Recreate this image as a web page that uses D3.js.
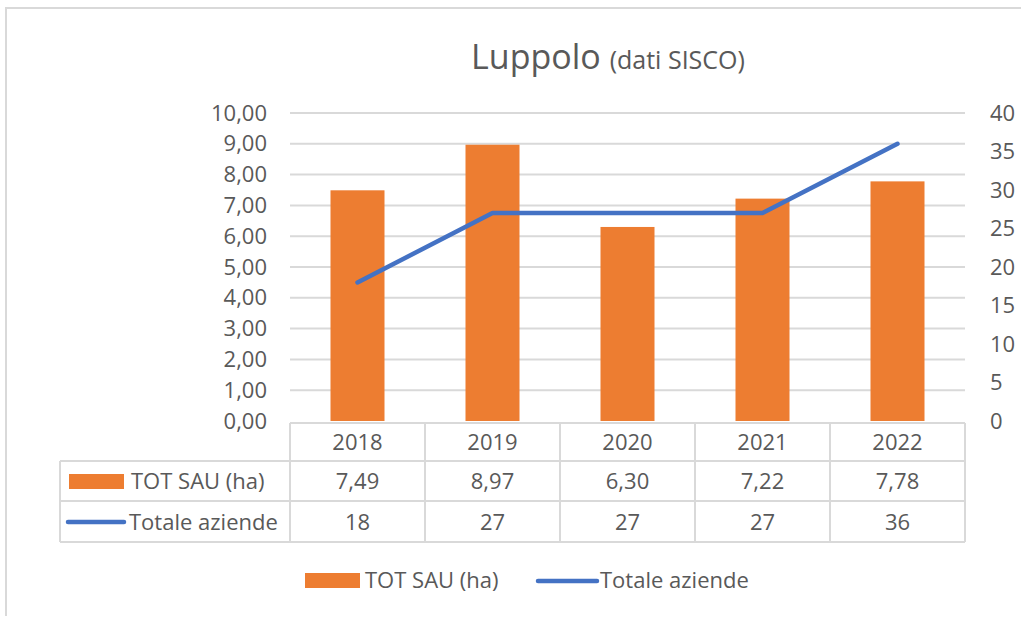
<!DOCTYPE html>
<html>
<head>
<meta charset="utf-8">
<script src="https://cdn.jsdelivr.net/npm/d3@7"></script>
<style>
  body { margin: 0; background: #fff; }
  text { font-family: "Open Sans", "Noto Sans", sans-serif; fill: #595959; }
</style>
</head>
<body>
<div id="chart"></div>
<script>
// data
var years = ["2018", "2019", "2020", "2021", "2022"];
var sau = [7.49, 8.97, 6.30, 7.22, 7.78];
var aziende = [18, 27, 27, 27, 36];
var leftTicks = [0, 1, 2, 3, 4, 5, 6, 7, 8, 9, 10];
var rightTicks = [0, 5, 10, 15, 20, 25, 30, 35, 40];
var seriesNames = ["TOT SAU (ha)", "Totale aziende"];

var svgWidth = 1021, svgHeight = 618;
var orange = "#ED7D31", blue = "#4472C4", grid = "#d9d9d9";
var fs = 22;

var svg = d3.select("#chart").append("svg")
  .attr("width", svgWidth)
  .attr("height", svgHeight);

// outer frame
svg.append("path")
  .attr("d", "M6,616 L6,8 L1021,8")
  .attr("fill", "none")
  .attr("stroke", grid)
  .attr("stroke-width", 2);

var plot = { left: 290, right: 965, top: 113, bottom: 421 };

var x = d3.scaleBand().domain(years).range([plot.left, plot.right]);
var yL = d3.scaleLinear().domain([0, 10]).range([plot.bottom, plot.top]);
var yR = d3.scaleLinear().domain([0, 40]).range([plot.bottom, plot.top]);

var fmt = function(v) { return d3.format(".2f")(v).replace(".", ","); };

// title
var title = svg.append("text")
  .attr("x", 608).attr("y", 69)
  .attr("text-anchor", "middle");
title.append("tspan").attr("font-size", 34).text("Luppolo ");
title.append("tspan").attr("font-size", 25).text("(dati SISCO)");

// grid lines
svg.append("g").selectAll("line")
  .data(leftTicks.slice(1))
  .join("line")
  .attr("x1", plot.left).attr("x2", plot.right)
  .attr("y1", d => yL(d)).attr("y2", d => yL(d))
  .attr("stroke", grid).attr("stroke-width", 2);

// left axis
var leftAxis = d3.axisLeft(yL).tickValues(leftTicks).tickFormat(fmt).tickSize(0).tickPadding(23);
svg.append("g")
  .attr("transform", `translate(${plot.left},0)`)
  .call(leftAxis)
  .call(g => g.select(".domain").remove())
  .selectAll("text").attr("font-size", fs).attr("fill", "#595959").attr("font-family", null);

// right axis
var rightAxis = d3.axisRight(yR).tickValues(rightTicks).tickSize(0).tickPadding(25);
svg.append("g")
  .attr("transform", `translate(${plot.right},0)`)
  .call(rightAxis)
  .call(g => g.select(".domain").remove())
  .selectAll("text").attr("font-size", fs).attr("fill", "#595959").attr("font-family", null);

// bars
var barW = 54;
svg.append("g").selectAll("rect")
  .data(years)
  .join("rect")
  .attr("x", (d) => x(d) + x.bandwidth() / 2 - barW / 2)
  .attr("y", (d, i) => yL(sau[i]))
  .attr("width", barW)
  .attr("height", (d, i) => yL(0) - yL(sau[i]))
  .attr("fill", orange);

// line
var line = d3.line()
  .x((d, i) => x(years[i]) + x.bandwidth() / 2)
  .y(d => yR(d));
svg.append("path")
  .datum(aziende)
  .attr("d", line)
  .attr("fill", "none")
  .attr("stroke", blue)
  .attr("stroke-width", 4.5)
  .attr("stroke-linecap", "round")
  .attr("stroke-linejoin", "round");

// data table
var rowY = [423, 461, 501, 542];
var tableLeft = 60;
var tg = svg.append("g").attr("stroke", grid).attr("stroke-width", 2);
// horizontal lines
tg.append("line").attr("x1", plot.left).attr("x2", plot.right).attr("y1", rowY[0]).attr("y2", rowY[0]);
rowY.slice(1).forEach(function(yy) {
  tg.append("line").attr("x1", tableLeft).attr("x2", plot.right).attr("y1", yy).attr("y2", yy);
});
// vertical lines
years.forEach(function(d) {
  tg.append("line").attr("x1", x(d)).attr("x2", x(d)).attr("y1", rowY[0]).attr("y2", rowY[3]);
});
tg.append("line").attr("x1", plot.right).attr("x2", plot.right).attr("y1", rowY[0]).attr("y2", rowY[3]);
tg.append("line").attr("x1", tableLeft).attr("x2", tableLeft).attr("y1", rowY[1]).attr("y2", rowY[3]);

var rowMid = function(r) { return (rowY[r] + rowY[r + 1]) / 2 + 8; };
var cells = svg.append("g").attr("font-size", fs).attr("text-anchor", "middle");
cells.selectAll(".yr").data(years).join("text")
  .attr("x", d => x(d) + x.bandwidth() / 2).attr("y", rowMid(0)).text(d => d);
cells.selectAll(".sau").data(sau).join("text")
  .attr("x", (d, i) => x(years[i]) + x.bandwidth() / 2).attr("y", rowMid(1)).text(fmt);
cells.selectAll(".az").data(aziende).join("text")
  .attr("x", (d, i) => x(years[i]) + x.bandwidth() / 2).attr("y", rowMid(2)).text(d => d);

// table legend keys
svg.append("rect").attr("x", 69).attr("y", 474).attr("width", 55).attr("height", 15).attr("fill", orange);
svg.append("text").attr("x", 131).attr("y", rowMid(1)).attr("font-size", fs).text(seriesNames[0]);
svg.append("line").attr("x1", 68).attr("x2", 124).attr("y1", 522).attr("y2", 522)
  .attr("stroke", blue).attr("stroke-width", 4.5).attr("stroke-linecap", "round");
svg.append("text").attr("x", 129).attr("y", rowMid(2)).attr("font-size", fs).text(seriesNames[1]);

// bottom legend
svg.append("rect").attr("x", 305).attr("y", 573).attr("width", 55).attr("height", 15).attr("fill", orange);
svg.append("text").attr("x", 365).attr("y", 588).attr("font-size", fs).text(seriesNames[0]);
svg.append("line").attr("x1", 538).attr("x2", 597).attr("y1", 581).attr("y2", 581)
  .attr("stroke", blue).attr("stroke-width", 4.5).attr("stroke-linecap", "round");
svg.append("text").attr("x", 600).attr("y", 588).attr("font-size", fs).text(seriesNames[1]);
</script>
</body>
</html>
